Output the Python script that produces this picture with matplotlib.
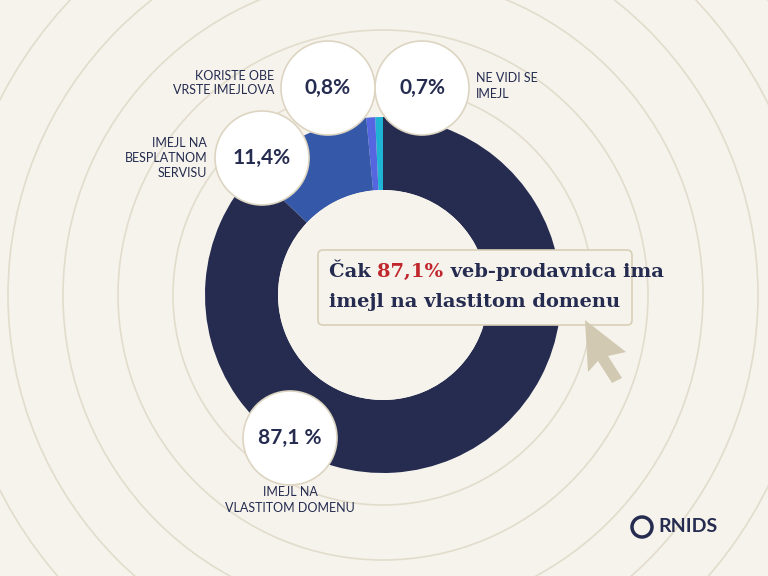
import matplotlib
matplotlib.use("Agg")
import matplotlib.pyplot as plt
from matplotlib.patches import Circle, FancyBboxPatch, Polygon

categories = ["NE VIDI SE\nIMEJL", "KORISTE OBE\nVRSTE IMEJLOVA", "IMEJL NA\nBESPLATNOM\nSERVISU", "IMEJL NA\nVLASTITOM DOMENU"]
values = [0.7, 0.8, 11.4, 87.1]
value_labels = ["0,7%", "0,8%", "11,4%", "87,1 %"]
colors = ["#1fb3d4", "#5566e0", "#3559a8", "#252c50"]

BG = "#f6f3ec"
fig = plt.figure(figsize=(7.68, 5.76), dpi=100, facecolor=BG)
ax = fig.add_axes([0, 0, 1, 1])
ax.set_xlim(0, 768); ax.set_ylim(0, 576); ax.set_aspect("equal"); ax.axis("off")
ax.set_facecolor(BG)

cx, cy = 383, 576 - 295
for r in range(210, 800, 55):
    ax.add_patch(Circle((cx, cy), r, fill=False, ec="#e2dccd", lw=1.2, zorder=0))

ax.pie(values, colors=colors, startangle=90, counterclock=True, center=(cx, cy),
       radius=178, wedgeprops=dict(width=73, linewidth=0), frame=True)
ax.add_patch(Circle((cx, cy), 105, fc=BG, ec="none", zorder=1))
ax.set_xlim(0, 768); ax.set_ylim(0, 576); ax.axis("off")

bubbles = [(422, 88), (328, 88), (262, 158), (290, 438)]
label_pos = [(476, 86, "left"), (274, 83, "right"), (207, 158, "right"), (290, 500, "center")]
for (bx, by), (lx, ly, ha), cat, vl in zip(bubbles, label_pos, categories, value_labels):
    ax.add_patch(Circle((bx, 576 - by), 47, fc="white", ec="#ddd5c2", lw=1.2, zorder=5))
    ax.text(bx, 576 - by, vl, ha="center", va="center", fontsize=15, fontweight="bold",
            color="#252c50", family="Lato", zorder=6)
    ax.text(lx, 576 - ly, cat, ha=ha, va="center", fontsize=9, color="#252c50",
            family="Lato", linespacing=1.3, zorder=6)

ax.add_patch(FancyBboxPatch((318, 576 - 325), 314, 75, boxstyle="round,pad=0,rounding_size=5",
                            fc="#f6f3ec", ec="#d8cfb8", lw=1.2, zorder=7))
kw = dict(va="center", fontsize=14, fontweight="bold", family="DejaVu Serif", zorder=8)
t0 = ax.text(329, 576 - 272, "Čak ", ha="left", color="#252c50", **kw)
t1 = ax.annotate("87,1%", xycoords=t0, xy=(1, 0.5), ha="left", va="center", color="#c0272d",
                 fontsize=14, fontweight="bold", family="DejaVu Serif", zorder=8)
ax.annotate(" veb-prodavnica ima", xycoords=t1, xy=(1, 0.5), ha="left", va="center", color="#252c50",
            fontsize=14, fontweight="bold", family="DejaVu Serif", zorder=8)
ax.text(475, 576 - 302, "imejl na vlastitom domenu", ha="center", color="#252c50", **kw)

cursor = [(585, 320), (626, 352), (608, 356), (622, 378), (612, 383), (598, 361), (588, 372)]
ax.add_patch(Polygon([(x, 576 - y) for x, y in cursor], closed=True, fc="#d2c9b3", ec="none", zorder=9))

ax.add_patch(Circle((642, 576 - 527), 10, fill=False, ec="#252c50", lw=2.5, zorder=6))
ax.text(658, 576 - 527, "RNIDS", ha="left", va="center", fontsize=14, fontweight="bold",
        color="#252c50", family="Lato", zorder=6)

fig.savefig("out.png", dpi=100, facecolor=BG)
